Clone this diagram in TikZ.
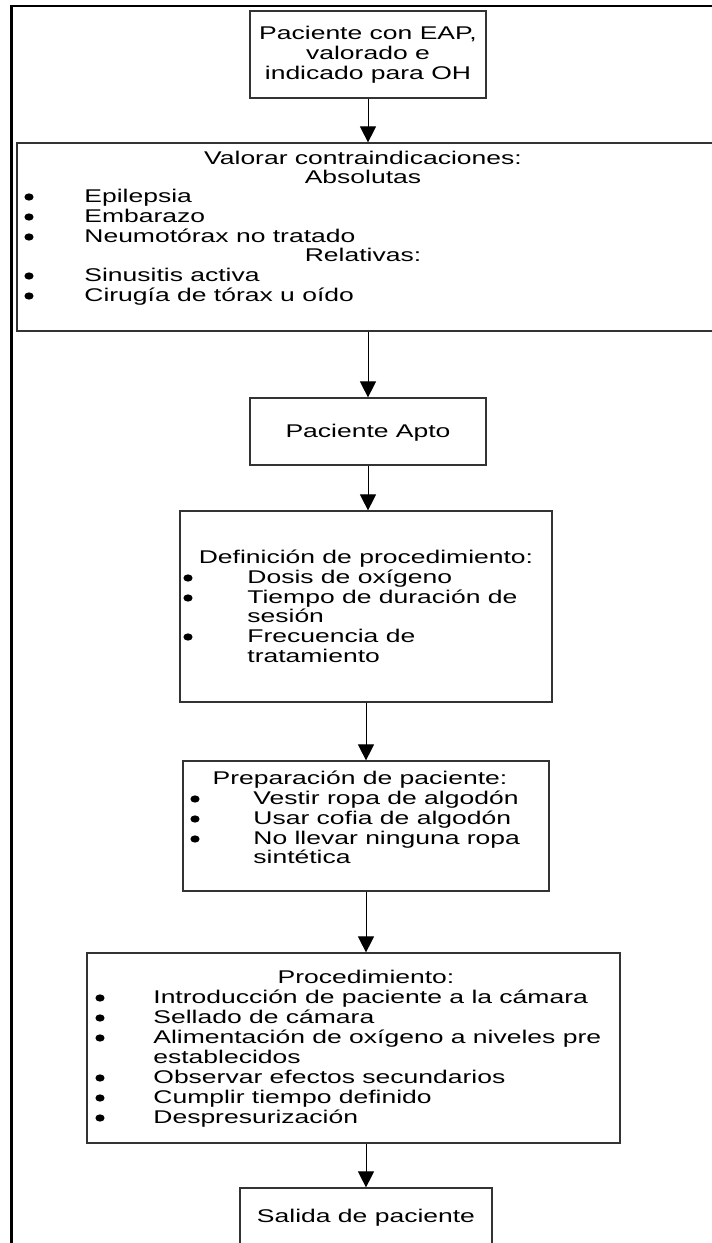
\documentclass[tikz,border=0pt]{standalone}
\usepackage{fontspec}
\setmainfont{Liberation Sans}
\usetikzlibrary{arrows.meta}

\newcommand{\ancho}[1]{\scalebox{1.44}[1]{#1}}

\tikzset{
  caja/.style={draw=black!80, line width=0.6pt, inner sep=0pt},
  txt/.style={inner sep=0pt, anchor=base west, font=\fontsize{9.2}{10}\selectfont},
  txtc/.style={txt, anchor=base},
  flecha/.style={line width=0.5pt, -{Triangle[width=8pt,length=8pt]}}
}

\begin{document}
\begin{tikzpicture}[x=0.5pt, y=-0.5pt]
    \useasboundingbox (0,0) rectangle (712,1243);
    \clip (0,0) rectangle (712,1243);

    % marco exterior
    \draw[line width=1.3pt] (11.5,1260) -- (11.5,6) -- (730,6);

    % cajas
    \node[caja, minimum width=118pt, minimum height=43.5pt] (inicio) at (368,54.5) {};
    \node[caja, minimum width=349.5pt, minimum height=94pt] (contra) at (366.4,237) {};
    \node[caja, minimum width=118pt, minimum height=33.5pt] (apto) at (368,431.5) {};
    \node[caja, minimum width=186pt, minimum height=95.5pt] (defin) at (366,606.5) {};
    \node[caja, minimum width=183pt, minimum height=65pt] (prep) at (366,826) {};
    \node[caja, minimum width=266.5pt, minimum height=95pt] (proc) at (353.5,1048) {};
    \node[caja, minimum width=126pt, minimum height=33.5pt] (salida) at (366,1221.5) {};

    % flechas
    \draw[flecha] (inicio.south) -- (inicio.south |- contra.north);
    \draw[flecha] (inicio.south |- contra.south) -- (apto.north);
    \draw[flecha] (apto.south) -- (apto.south |- defin.north);
    \draw[flecha] (defin.south) -- (defin.south |- prep.north);
    \draw[flecha] (prep.south) -- (prep.south |- proc.north);
    \draw[flecha] (prep.south |- proc.south) -- (prep.south |- salida.north);

    % textos de la primera caja
    \node[txtc] (i1) at (368,39) {\ancho{Paciente con EAP,}};
    \node[txtc] (i2) at (368,59) {\ancho{valorado e}};
    \node[txtc] (i3) at (368,79) {\ancho{indicado para OH}};

    % contraindicaciones
    \node[txtc] (c0) at (363,164) {\ancho{Valorar contraindicaciones:}};
    \node[txtc] (c1) at (363,183) {\ancho{Absolutas}};
    \node[txtc] (c2) at (363,261) {\ancho{Relativas:}};
    \foreach \y/\t [count=\i] in {202/Epilepsia, 222/Embarazo, 242/Neumotórax no tratado,
                                  281/Sinusitis activa, 301/Cirugía de tórax u oído} {
        \fill (29,\y-5) ellipse (4.6 and 3.6);
        \node[txt] (ct\i) at (84,\y) {\ancho{\t}};
    }

    \node[txtc] (a1) at (368,437) {\ancho{Paciente Apto}};

    % definicion de procedimiento
    \node[txtc] (d0) at (366,563) {\ancho{Definición de procedimiento:}};
    \foreach \y/\t [count=\i] in {583/Dosis de oxígeno, 603/Tiempo de duración de, 642/Frecuencia de} {
        \fill (188,\y-5) ellipse (4.6 and 3.6);
        \node[txt] (dt\i) at (247,\y) {\ancho{\t}};
    }
    \node[txt] (dt4) at (247,622) {\ancho{sesión}};
    \node[txt] (dt5) at (247,662) {\ancho{tratamiento}};

    % preparacion
    \node[txtc] (p0) at (360,784) {\ancho{Preparación de paciente:}};
    \foreach \y/\t [count=\i] in {804/Vestir ropa de algodón, 824/Usar cofia de algodón, 844/No llevar ninguna ropa} {
        \fill (195,\y-5) ellipse (4.6 and 3.6);
        \node[txt] (pt\i) at (253,\y) {\ancho{\t}};
    }
    \node[txt] (pt4) at (253,863) {\ancho{sintética}};

    % procedimiento
    \node[txtc] (r0) at (366,983) {\ancho{Procedimiento:}};
    \foreach \y/\t [count=\i] in {1003/Introducción de paciente a la cámara, 1023/Sellado de cámara,
                                  1043/Alimentación de oxígeno a niveles pre, 1083/Observar efectos secundarios,
                                  1103/Cumplir tiempo definido, 1123/Despresurización} {
        \fill (100,\y-5) ellipse (4.6 and 3.6);
        \node[txt] (rt\i) at (153,\y) {\ancho{\t}};
    }
    \node[txt] (rt7) at (153,1063) {\ancho{establecidos}};

    \node[txtc] (s1) at (366,1222) {\ancho{Salida de paciente}};
\end{tikzpicture}
\end{document}
